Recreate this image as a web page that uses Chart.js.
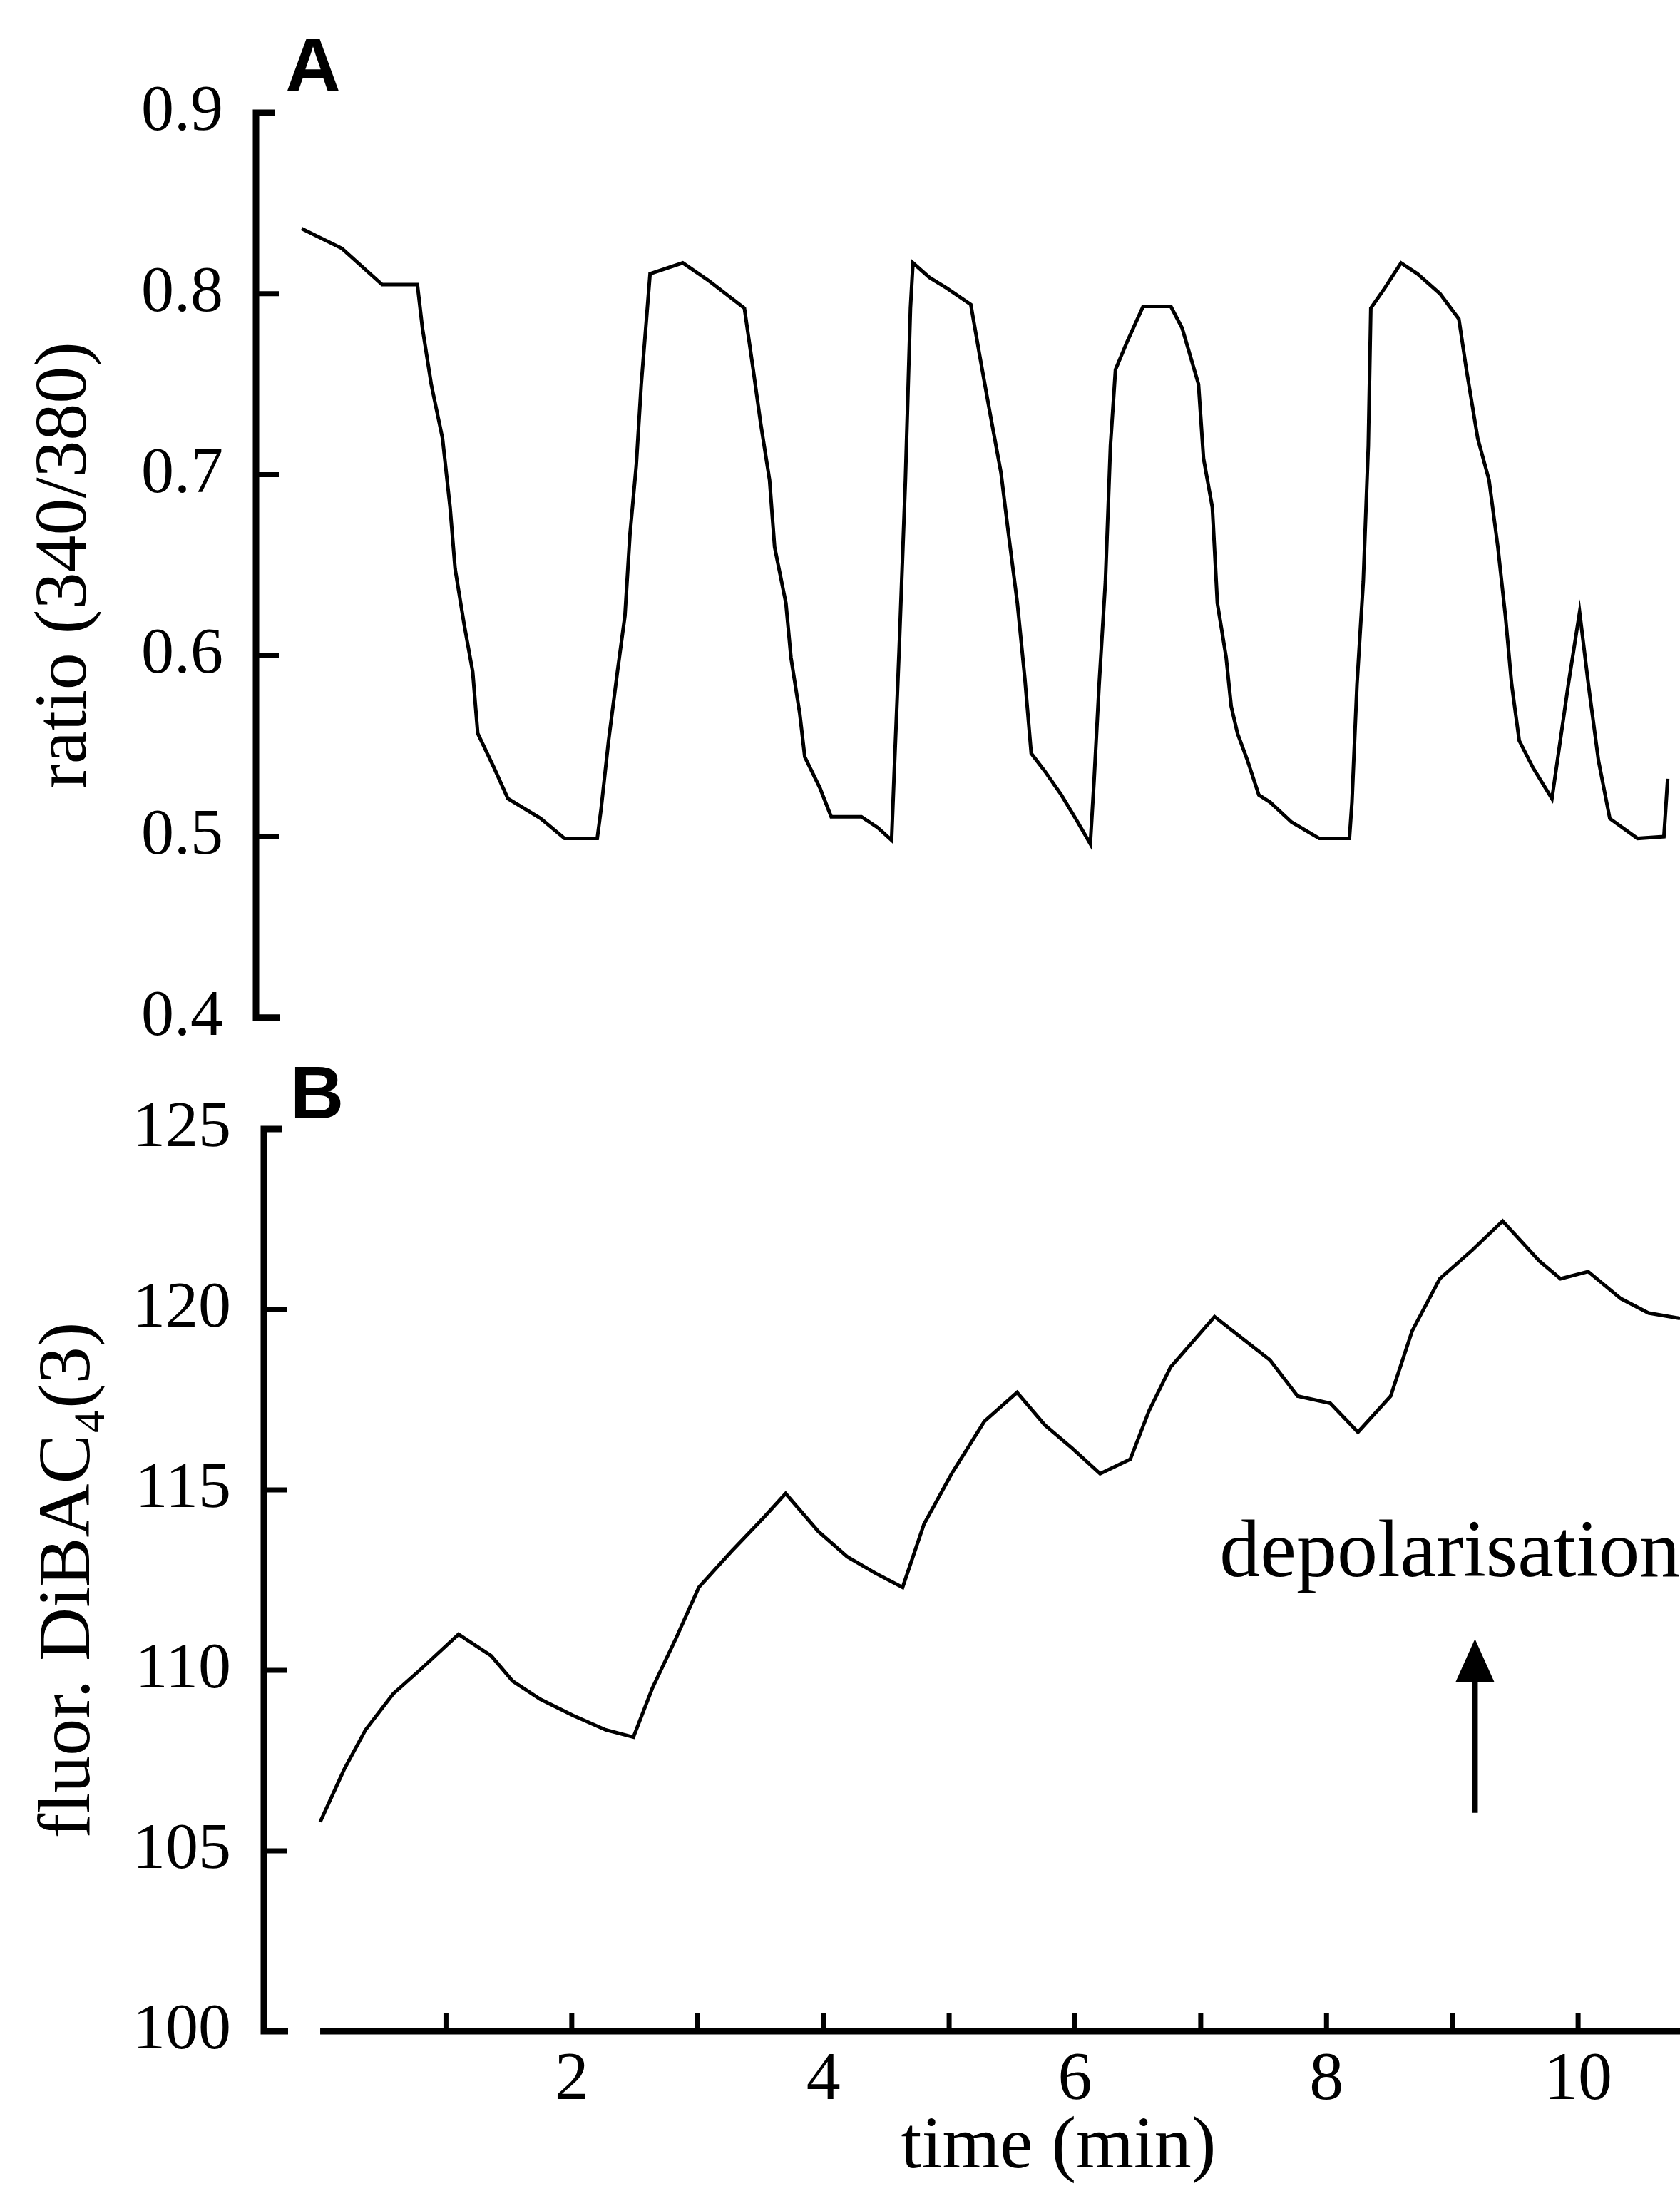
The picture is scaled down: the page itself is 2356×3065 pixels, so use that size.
<!DOCTYPE html>
<html><head><meta charset="utf-8">
<script src="https://cdn.jsdelivr.net/npm/chart.js@4.4.1/dist/chart.umd.min.js"></script>
<style>
html,body{margin:0;padding:0;background:#fff;}
body{width:2356px;height:3065px;position:relative;overflow:hidden;}
#wa{position:absolute;left:0;top:0;width:2356px;height:1528px;}
#wb{position:absolute;left:0;top:1480px;width:2356px;height:1585px;}
</style></head><body>
<div id="wa"><canvas id="ca" width="2356" height="1528"></canvas></div>
<div id="wb"><canvas id="cb" width="2356" height="1585"></canvas></div>
<script>
// ---- Panel A: ratio (340/380) ----
const timeA = [0.00,0.32,0.64,0.92,0.96,1.03,1.12,1.18,1.22,1.29,1.36,1.40,1.53,1.64,1.90,2.09,2.35,2.38,2.44,2.51,2.57,2.61,2.66,2.70,2.77,3.03,3.24,3.52,3.59,3.65,3.72,3.76,3.85,3.89,3.96,4.00,4.12,4.21,4.45,4.58,4.69,4.71,4.75,4.80,4.84,4.86,4.99,5.13,5.32,5.39,5.47,5.56,5.62,5.69,5.75,5.80,5.91,6.04,6.17,6.27,6.30,6.34,6.39,6.43,6.47,6.56,6.69,6.91,7.00,7.13,7.17,7.24,7.28,7.35,7.39,7.44,7.52,7.61,7.70,7.87,8.09,8.33,8.35,8.39,8.44,8.48,8.50,8.61,8.74,8.87,9.05,9.20,9.26,9.35,9.44,9.51,9.57,9.62,9.68,9.79,9.94,10.07,10.16,10.23,10.31,10.40,10.62,10.83,10.86];
const ratioA = [0.836,0.825,0.805,0.805,0.781,0.750,0.720,0.682,0.648,0.618,0.591,0.557,0.538,0.521,0.510,0.499,0.499,0.515,0.553,0.591,0.622,0.667,0.705,0.750,0.811,0.817,0.807,0.792,0.758,0.728,0.697,0.660,0.629,0.599,0.568,0.544,0.527,0.511,0.511,0.505,0.498,0.534,0.603,0.697,0.792,0.817,0.809,0.803,0.794,0.766,0.735,0.701,0.667,0.629,0.587,0.546,0.536,0.523,0.508,0.496,0.531,0.584,0.641,0.716,0.758,0.773,0.793,0.793,0.781,0.750,0.709,0.682,0.629,0.599,0.572,0.557,0.542,0.523,0.519,0.508,0.499,0.499,0.519,0.584,0.641,0.716,0.792,0.803,0.817,0.811,0.800,0.786,0.758,0.720,0.697,0.660,0.622,0.584,0.553,0.538,0.521,0.584,0.624,0.584,0.542,0.510,0.499,0.500,0.532];
const ticksA = [0.4,0.5,0.6,0.7,0.8,0.9];

// ---- Panel B: fluor. DiBAC4(3) ----
const timeB = [0.00,0.19,0.36,0.58,0.79,1.10,1.36,1.53,1.75,2.01,2.27,2.49,2.64,2.83,3.01,3.27,3.53,3.70,3.96,4.19,4.41,4.63,4.80,5.02,5.28,5.54,5.76,5.98,6.20,6.44,6.59,6.76,7.11,7.33,7.55,7.77,8.03,8.25,8.51,8.68,8.90,9.16,9.40,9.69,9.86,10.08,10.34,10.56,10.81];
const fluorB = [105.8,107.25,108.35,109.35,110.0,111.0,110.4,109.7,109.2,108.75,108.35,108.15,109.5,110.9,112.3,113.3,114.25,114.9,113.85,113.15,112.7,112.3,114.05,115.45,116.9,117.7,116.8,116.15,115.45,115.85,117.2,118.4,119.8,119.2,118.6,117.6,117.4,116.6,117.6,119.4,120.85,121.65,122.45,121.35,120.85,121.05,120.3,119.9,119.75];
const ticksB = [100,105,110,115,120,125];
const xTickLabels = [2,4,6,8,10];
const xTickMarks = [1,2,3,4,5,6,7,8,9,10];

// annotation (data coordinates of panel B)
const arrowB = {time: 9.18, from: 106.05, to: 110.87};
const noteB = {text: 'depolarisation', time: 7.15, value: 112.6};

const SERIF = 'Liberation Serif';
const SANS = 'Liberation Sans';

function pairs(xs, ys){ return xs.map((x,i)=>({x:x, y:ys[i]})); }

function bracket(chart, tickVals){
  const {ctx, chartArea} = chart; const y = chart.scales.y;
  const x0 = chartArea.left;
  const top = y.getPixelForValue(y.max), bot = y.getPixelForValue(y.min);
  ctx.save();
  ctx.strokeStyle = '#000'; ctx.lineWidth = 9; ctx.lineJoin = 'miter'; ctx.lineCap = 'butt';
  ctx.beginPath();
  ctx.moveTo(x0 + 26, top); ctx.lineTo(x0, top); ctx.lineTo(x0, bot); ctx.lineTo(x0 + 34, bot);
  ctx.stroke();
  ctx.lineWidth = 7;
  ctx.beginPath();
  tickVals.slice(1, -1).forEach(v => { const p = y.getPixelForValue(v); ctx.moveTo(x0, p); ctx.lineTo(x0 + 32, p); });
  ctx.stroke();
  ctx.restore();
}

const panelA = {
  id: 'panelA',
  afterDatasetsDraw(chart){
    bracket(chart, ticksA);
    const ctx = chart.ctx;
    ctx.save();
    ctx.fillStyle = '#000';
    ctx.font = 'bold 108px "' + SANS + '"';
    ctx.textAlign = 'left'; ctx.textBaseline = 'alphabetic';
    ctx.fillText('A', 400, 128);
    ctx.restore();
  }
};

const panelB = {
  id: 'panelB',
  afterDatasetsDraw(chart){
    bracket(chart, ticksB);
    const {ctx, chartArea} = chart; const x = chart.scales.x, y = chart.scales.y;
    ctx.save();
    ctx.strokeStyle = '#000'; ctx.fillStyle = '#000';
    // x axis line with upward ticks
    ctx.lineWidth = 9;
    ctx.beginPath();
    ctx.moveTo(x.getPixelForValue(0), chartArea.bottom);
    ctx.lineTo(chartArea.right, chartArea.bottom);
    ctx.stroke();
    ctx.lineWidth = 7;
    ctx.beginPath();
    xTickMarks.forEach(t => { const p = x.getPixelForValue(t); ctx.moveTo(p, chartArea.bottom); ctx.lineTo(p, chartArea.bottom - 26); });
    ctx.stroke();
    // arrow
    const ax = x.getPixelForValue(arrowB.time);
    const yb = y.getPixelForValue(arrowB.from), yt = y.getPixelForValue(arrowB.to);
    ctx.lineWidth = 8;
    ctx.beginPath(); ctx.moveTo(ax, yb); ctx.lineTo(ax, yt + 55); ctx.stroke();
    ctx.beginPath(); ctx.moveTo(ax, yt); ctx.lineTo(ax + 27, yt + 60); ctx.lineTo(ax - 27, yt + 60); ctx.closePath(); ctx.fill();
    // annotation text
    ctx.font = '114px "' + SERIF + '"';
    ctx.textAlign = 'left'; ctx.textBaseline = 'alphabetic';
    ctx.fillText(noteB.text, x.getPixelForValue(noteB.time), y.getPixelForValue(noteB.value));
    // x-axis title
    ctx.font = '104px "' + SERIF + '"';
    ctx.textAlign = 'center';
    ctx.fillText('time (min)', x.getPixelForValue(5.87), chart.height - 26);
    // panel letter
    ctx.font = 'bold 104px "' + SANS + '"';
    ctx.textAlign = 'left';
    ctx.fillText('B', 407, 88);
    ctx.restore();
  }
};

Chart.defaults.color = '#000';
Chart.defaults.font.family = SERIF;

new Chart(document.getElementById('ca'), {
  type: 'line',
  data: { datasets: [{ data: pairs(timeA, ratioA), borderColor: '#000', borderWidth: 5, pointRadius: 0, tension: 0, fill: false }] },
  options: {
    responsive: false, animation: false, devicePixelRatio: 1,
    layout: { padding: { top: 158, bottom: 73, left: 0, right: 0 } },
    plugins: { legend: { display: false }, tooltip: { enabled: false } },
    scales: {
      x: { type: 'linear', min: -0.363, max: 10.958, display: false },
      y: {
        type: 'linear', min: 0.4, max: 0.9,
        afterBuildTicks: s => { s.ticks = ticksA.map(v => ({ value: v })); },
        afterFit: s => { s.width = 359; },
        grid: { display: false, drawTicks: false }, border: { display: false },
        ticks: { font: { family: SERIF, size: 92 }, color: '#000', padding: 46, callback: v => Number(v).toFixed(1) },
        title: { display: true, text: 'ratio (340/380)', font: { family: SERIF, size: 104 }, color: '#000', padding: { top: 30, bottom: 0 } }
      }
    }
  },
  plugins: [panelA]
});

new Chart(document.getElementById('cb'), {
  type: 'line',
  data: { datasets: [{ data: pairs(timeB, fluorB), borderColor: '#000', borderWidth: 5, pointRadius: 0, tension: 0, fill: false }] },
  options: {
    responsive: false, animation: false, devicePixelRatio: 1,
    layout: { padding: { top: 103, bottom: 0, left: 0, right: 0 } },
    plugins: { legend: { display: false }, tooltip: { enabled: false } },
    scales: {
      x: {
        type: 'linear', min: -0.448, max: 10.81,
        afterBuildTicks: s => { s.ticks = xTickLabels.map(v => ({ value: v })); },
        afterFit: s => { s.height = 217; },
        grid: { display: false, drawTicks: false }, border: { display: false },
        ticks: { font: { family: SERIF, size: 96 }, color: '#000', padding: 12, maxRotation: 0, autoSkip: false }
      },
      y: {
        type: 'linear', min: 100, max: 125,
        afterBuildTicks: s => { s.ticks = ticksB.map(v => ({ value: v })); },
        afterFit: s => { s.width = 370; },
        grid: { display: false, drawTicks: false }, border: { display: false },
        ticks: { font: { family: SERIF, size: 92 }, color: '#000', padding: 46 },
        title: { display: true, text: 'fluor. DiBAC\u2084(3)', font: { family: SERIF, size: 104 }, color: '#000', padding: { top: 35, bottom: 0 } }
      }
    }
  },
  plugins: [panelB]
});
</script>
</body></html>
